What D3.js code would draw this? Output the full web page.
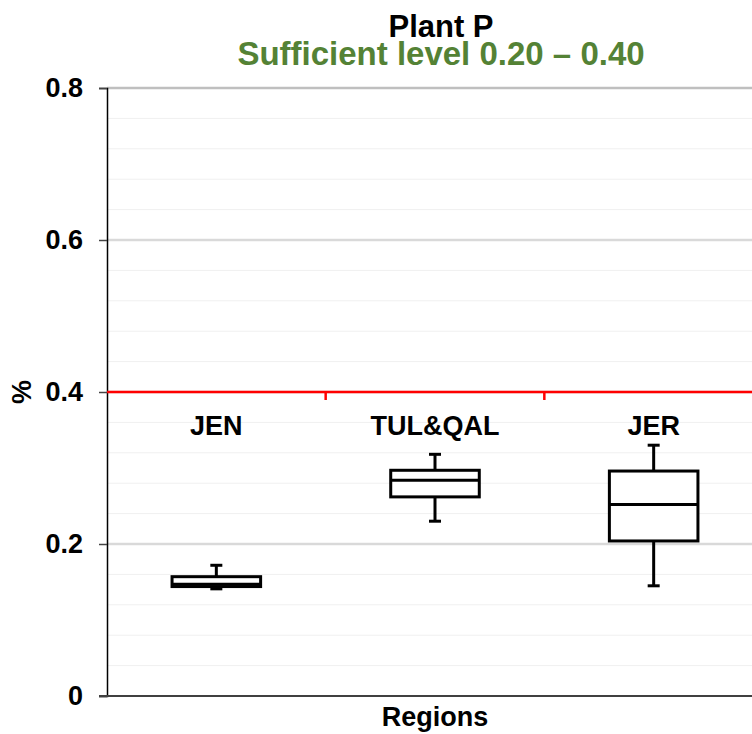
<!DOCTYPE html>
<html>
<head>
<meta charset="utf-8">
<script src="https://cdn.jsdelivr.net/npm/d3@7"></script>
<style>
  body { margin: 0; background: #fff; overflow: hidden; }
  text { font-family: "Liberation Sans", Arial, sans-serif; font-weight: bold; }
</style>
</head>
<body>
<div id="chart"></div>
<script>
// Box plot data, one entry per region
var categories = ["JEN", "TUL&QAL", "JER"];
var whiskerLow = [0.141, 0.230, 0.145];
var q1 = [0.144, 0.262, 0.204];
var median = [0.147, 0.284, 0.252];
var q3 = [0.157, 0.297, 0.296];
var whiskerHigh = [0.172, 0.318, 0.330];

var yTicks = [0, 0.2, 0.4, 0.6, 0.8];
var minorTicks = d3.range(0, 0.801, 0.04);
var limitLine = 0.4;

function init() {
    var w = 752;
    var h = 734;
    var left = 107, right = 763, top = 88, bottom = 696;

    var svg = d3.select("#chart")
                .append("svg")
                .attr("width", w)
                .attr("height", h);

    var xScale = d3.scaleBand()
                    .domain(categories)
                    .range([left, right])
                    .padding(0);

    var yScale = d3.scaleLinear()
                    .domain([0, 0.8])
                    .range([bottom, top]);

    // minor gridlines
    svg.append("g")
        .selectAll("line")
        .data(minorTicks)
        .enter()
        .append("line")
        .attr("x1", left)
        .attr("x2", right)
        .attr("y1", function(d) { return yScale(d); })
        .attr("y2", function(d) { return yScale(d); })
        .attr("stroke", "#f0f0f0")
        .attr("stroke-width", 1);

    // major gridlines
    svg.append("g")
        .selectAll("line")
        .data(yTicks.slice(1))
        .enter()
        .append("line")
        .attr("x1", left)
        .attr("x2", right)
        .attr("y1", function(d) { return yScale(d); })
        .attr("y2", function(d) { return yScale(d); })
        .attr("stroke", function(d) { return d === 0.8 ? "#bfbfbf" : "#d9d9d9"; })
        .attr("stroke-width", 2.5);

    // y axis
    var yAxis = d3.axisLeft(yScale)
                    .tickValues(yTicks)
                    .tickFormat(function(d) { return d === 0 ? "0" : d3.format(".1f")(d); })
                    .tickSize(8)
                    .tickPadding(16);

    var gy = svg.append("g")
                .attr("transform", "translate(" + left + ",0)")
                .call(yAxis);
    gy.select(".domain").attr("stroke", "#000").attr("stroke-width", 1.5);
    gy.selectAll(".tick line").attr("stroke", "#444").attr("stroke-width", 1.5);
    gy.selectAll(".tick text")
        .attr("font-size", 27)
        .attr("font-family", "Liberation Sans, Arial, sans-serif")
        .attr("font-weight", "bold")
        .attr("fill", "#000");

    // x axis line
    svg.append("line")
        .attr("x1", left - 8)
        .attr("x2", right)
        .attr("y1", yScale(0))
        .attr("y2", yScale(0))
        .attr("stroke", "#404040")
        .attr("stroke-width", 2);

    // red sufficiency line with small category ticks
    svg.append("line")
        .attr("x1", left)
        .attr("x2", right)
        .attr("y1", yScale(limitLine))
        .attr("y2", yScale(limitLine))
        .attr("stroke", "#ff0000")
        .attr("stroke-width", 2.5);

    svg.append("g")
        .selectAll("line")
        .data(categories.slice(1))
        .enter()
        .append("line")
        .attr("x1", function(d) { return xScale(d); })
        .attr("x2", function(d) { return xScale(d); })
        .attr("y1", yScale(limitLine))
        .attr("y2", yScale(limitLine) + 8)
        .attr("stroke", "#ff0000")
        .attr("stroke-width", 2.5);

    // boxes
    var boxW = xScale.bandwidth() * 0.405;
    var capW = 12;
    var groups = svg.selectAll("g.box")
                    .data(categories)
                    .enter()
                    .append("g")
                    .attr("class", "box");

    groups.append("line")
        .attr("x1", function(d) { return xScale(d) + xScale.bandwidth() / 2; })
        .attr("x2", function(d) { return xScale(d) + xScale.bandwidth() / 2; })
        .attr("y1", function(d, i) { return yScale(whiskerHigh[i]); })
        .attr("y2", function(d, i) { return yScale(whiskerLow[i]); })
        .attr("stroke", "#000")
        .attr("stroke-width", 3);

    [whiskerHigh, whiskerLow].forEach(function(arr) {
        groups.append("line")
            .attr("x1", function(d) { return xScale(d) + xScale.bandwidth() / 2 - capW / 2; })
            .attr("x2", function(d) { return xScale(d) + xScale.bandwidth() / 2 + capW / 2; })
            .attr("y1", function(d, i) { return yScale(arr[i]); })
            .attr("y2", function(d, i) { return yScale(arr[i]); })
            .attr("stroke", "#000")
            .attr("stroke-width", 3);
    });

    groups.append("rect")
        .attr("x", function(d) { return xScale(d) + (xScale.bandwidth() - boxW) / 2; })
        .attr("y", function(d, i) { return yScale(q3[i]); })
        .attr("width", boxW)
        .attr("height", function(d, i) { return yScale(q1[i]) - yScale(q3[i]); })
        .attr("fill", "#fff")
        .attr("stroke", "#000")
        .attr("stroke-width", 3);

    groups.append("line")
        .attr("x1", function(d) { return xScale(d) + (xScale.bandwidth() - boxW) / 2; })
        .attr("x2", function(d) { return xScale(d) + (xScale.bandwidth() + boxW) / 2; })
        .attr("y1", function(d, i) { return yScale(median[i]); })
        .attr("y2", function(d, i) { return yScale(median[i]); })
        .attr("stroke", "#000")
        .attr("stroke-width", 3);

    // category labels
    groups.append("text")
        .attr("x", function(d) { return xScale(d) + xScale.bandwidth() / 2; })
        .attr("y", 435)
        .attr("text-anchor", "middle")
        .attr("font-size", 27)
        .attr("fill", "#000")
        .text(function(d) { return d; });

    // title block: two lines in one text element
    var title = svg.append("text")
        .attr("text-anchor", "middle");
    title.append("tspan")
        .attr("x", 441)
        .attr("y", 37)
        .attr("font-size", 31)
        .attr("fill", "#000")
        .text("Plant P");
    title.append("tspan")
        .attr("x", 441)
        .attr("y", 65)
        .attr("font-size", 33)
        .attr("fill", "#548235")
        .text("Sufficient level 0.20 \u2013 0.40");

    // axis titles
    svg.append("text")
        .attr("transform", "translate(31," + yScale(limitLine) + ") rotate(-90)")
        .attr("text-anchor", "middle")
        .attr("font-size", 27)
        .attr("fill", "#000")
        .text("%");

    svg.append("text")
        .attr("x", 435)
        .attr("y", 726)
        .attr("text-anchor", "middle")
        .attr("font-size", 27)
        .attr("fill", "#000")
        .text("Regions");
}

window.onload = init;
</script>
</body>
</html>
